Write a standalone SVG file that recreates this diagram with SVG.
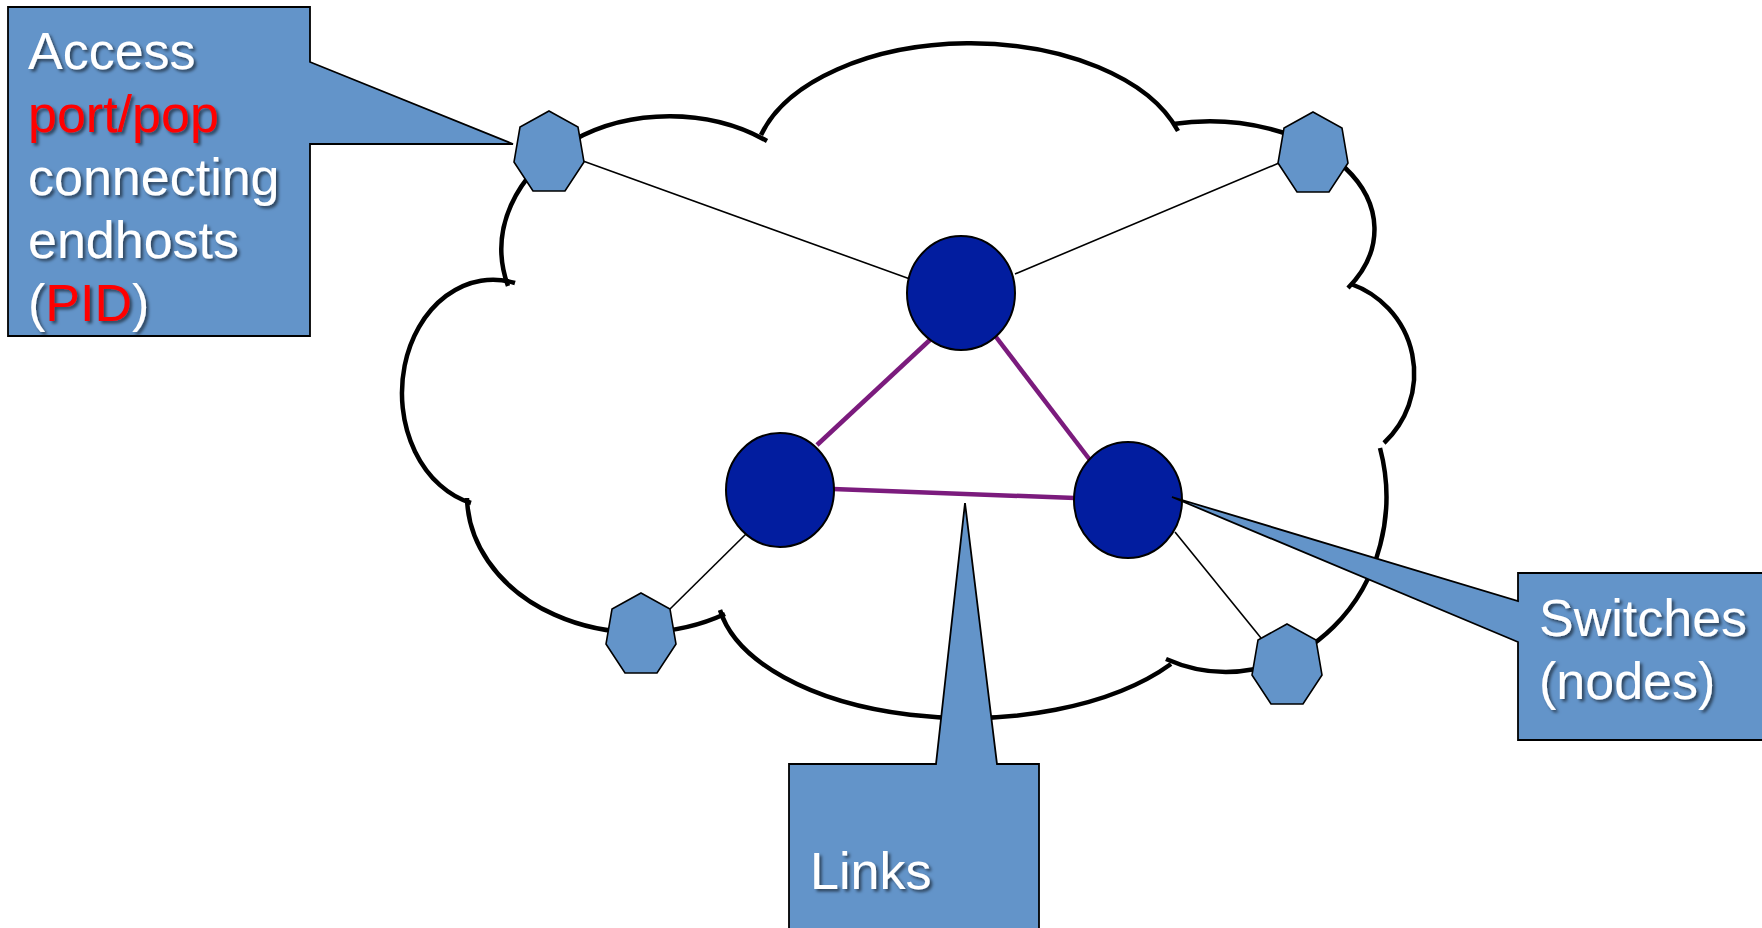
<svg xmlns="http://www.w3.org/2000/svg" width="1762" height="928" viewBox="0 0 1762 928">
<defs>
<filter id="sh" x="-10%" y="-10%" width="130%" height="140%">
<feDropShadow dx="2.5" dy="2.5" stdDeviation="1.5" flood-color="#000" flood-opacity="0.55"/>
</filter>
<polygon id="hept" points="0,0 29,16 35,51 16,80 -16,80 -35,51 -29,16"/>
</defs>
<style>
.cloud{fill:#fff;stroke:none}
.arc{fill:none;stroke:#000;stroke-width:4.5}
.thin{stroke:#000;stroke-width:1.6}
.link{stroke:#7b1b7d;stroke-width:4.5}
.sw{fill:#021d9f;stroke:#000;stroke-width:2}
.hp{fill:#6394c9;stroke:#000;stroke-width:1.6}
.call{fill:#6394c9;stroke:#000;stroke-width:1.8}
.t{font-family:"Liberation Sans",Arial,sans-serif;font-size:52px;fill:#fff;filter:url(#sh)}
.red{fill:#ff0000}
</style>
<rect width="1762" height="928" fill="#fff"/>
<g id="cloud">
<path class="cloud" d="M509 284 A168 133 0 0 1 764 138 A217 124 0 0 1 1175 128 A165 108 0 0 1 1350 286 A95 95 0 0 1 1382 445 A160 175 0 0 1 1169 661 A250 128 0 0 1 722 612 A172 137 0 0 1 468 500 A90 112 0 0 1 509 284 Z"/>
<path class="arc" d="M508 286 A168 133 0 0 1 767 141"/>
<path class="arc" d="M761 135 A217 124 0 0 1 1178 131"/>
<path class="arc" d="M1173 124 A165 108 0 0 1 1348 288"/>
<path class="arc" d="M1351 284 A95 95 0 0 1 1384 443"/>
<path class="arc" d="M1380 448 A160 175 0 0 1 1166 659"/>
<path class="arc" d="M1171 664 A250 128 0 0 1 720 610"/>
<path class="arc" d="M725 614 A172 137 0 0 1 467 498"/>
<path class="arc" d="M471 503 A90 112 0 0 1 515 283"/>
</g>
<g id="connectors">
<line class="thin" x1="583" y1="161" x2="910" y2="279"/>
<line class="thin" x1="1279" y1="163" x2="1015" y2="274"/>
<line class="thin" x1="670" y1="609" x2="746" y2="534"/>
<line class="thin" x1="1261" y1="638" x2="1175" y2="532"/>
<line class="link" x1="932" y1="338" x2="817" y2="445"/>
<line class="link" x1="996" y1="337" x2="1090" y2="460"/>
<line class="link" x1="833" y1="489" x2="1075" y2="498"/>
</g>
<g id="switch-top"><ellipse class="sw" cx="961" cy="293" rx="54" ry="57"/></g>
<g id="switch-left"><ellipse class="sw" cx="780" cy="490" rx="54" ry="57"/></g>
<g id="switch-right"><ellipse class="sw" cx="1128" cy="500" rx="54" ry="58"/></g>
<g id="port-tl"><use href="#hept" class="hp" x="549" y="111"/></g>
<g id="port-tr"><use href="#hept" class="hp" x="1313" y="112"/></g>
<g id="port-bl"><use href="#hept" class="hp" x="641" y="593"/></g>
<g id="port-br"><use href="#hept" class="hp" x="1287" y="624"/></g>
<g id="callout-access">
<path class="call" d="M8 7 H310 V62 L513 144 H310 V336 H8 Z"/>
<text class="t" x="28" y="69">Access</text>
<text class="t red" x="28" y="132">port/pop</text>
<text class="t" x="28" y="195">connecting</text>
<text class="t" x="28" y="258">endhosts</text>
<text class="t" x="28" y="321">(<tspan class="red">PID</tspan>)</text>
</g>
<g id="callout-switches">
<path class="call" d="M1518 573 H1768 V740 H1518 V642 L1172 497 L1518 601 Z"/>
<text class="t" x="1539" y="636">Switches</text>
<text class="t" x="1539" y="699">(nodes)</text>
</g>
<g id="callout-links">
<path class="call" d="M789 764 H936 L965 503 L997 764 H1039 V935 H789 Z"/>
<text class="t" x="810" y="889">Links</text>
</g>
</svg>
